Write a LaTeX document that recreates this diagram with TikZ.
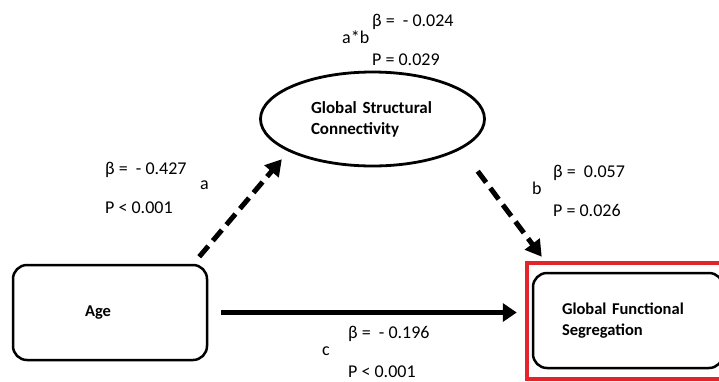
\documentclass[tikz,border=0pt]{standalone}
\usepackage{fontspec}
\setmainfont{Carlito}
\usetikzlibrary{positioning,arrows.meta,shapes.geometric}
\definecolor{hilite}{HTML}{E3242B}
\newcommand{\coef}[2]{β =\ \ #1\\P #2}

\begin{document}
\begin{tikzpicture}[x=1pt,y=-1pt,
  box/.style={draw,line width=2.5pt,rounded corners=14pt,minimum height=95pt,align=left,
    font=\fontsize{16.5}{21}\selectfont\bfseries},
  stat/.style={anchor=west,align=left,inner sep=0pt,font=\fontsize{18}{39}\selectfont},
  tag/.style={anchor=west,inner sep=0pt,font=\fontsize{18}{20}\selectfont},
  dasharrow/.style={line width=5pt,dash pattern=on 14pt off 7pt,-{Triangle[length=16pt,width=18pt]}},
  fullarrow/.style={line width=5pt,-{Triangle[length=14pt,width=18pt]}}]
\useasboundingbox (0,0) rectangle (719,381);
\fill[white] (0,0) rectangle (719,381);

% the three variables
\node[box,text width=50pt,inner xsep=72pt] (age) at (110,312.5) {Age};
\node[draw,ellipse,line width=2.8pt,minimum width=224pt,minimum height=94pt,inner sep=0pt,
  text width=123pt,align=left,font=\fontsize{17}{21}\selectfont\bfseries] (gsc) at (372.5,119)
  {Global Structural\\Connectivity};
\node[box,text width=132pt,inner xsep=29pt] (gfs) at (628,320.5) {Global Functional\\Segregation};
\draw[hilite,line width=4pt] (527,263) rectangle (740,379);

% paths
\draw[dasharrow] ([shift={(-9,-7)}]age.north east) -- ([shift={(-10.5,6)}]gsc.south west);
\draw[dasharrow] ([shift={(25,18)}]gsc.south east) -- ([shift={(10,-15)}]gfs.north west);
\draw[fullarrow,shorten <=13pt,shorten >=15pt] (age.east) -- (age.east -| gfs.west);

% coefficients
\node[stat] (statA) at (105,188) {\coef{- 0.427}{< 0.001}};
\node[tag] (tagA) at (200,185) {a};
\node[stat] (statAB) at (372,40) {\coef{- 0.024}{= 0.029}};
\node[tag] (tagAB) at (342,37) {a*b};
\node[stat] (statB) at (553,191) {\coef{0.057}{= 0.026}};
\node[tag] (tagB) at (532,188) {b};
\node[stat] (statC) at (348,352) {\coef{- 0.196}{< 0.001}};
\node[tag] (tagC) at (322,351) {c};
\end{tikzpicture}
\end{document}
